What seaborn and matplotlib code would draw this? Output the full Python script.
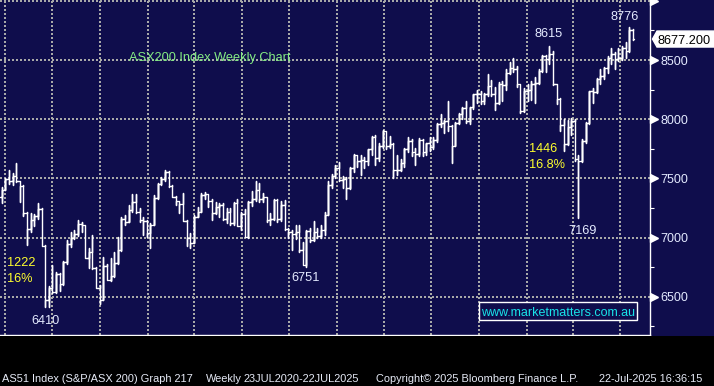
import numpy as np
import pandas as pd
import matplotlib
matplotlib.use("Agg")
import matplotlib.pyplot as plt
import matplotlib.dates as mdates
from matplotlib.patches import Rectangle, Polygon
from matplotlib.transforms import IdentityTransform, blended_transform_factory
import seaborn as sns

# ---------------- data (weekly OHLC, week ending Friday) ----------------
week_ending = pd.date_range("2022-03-25", "2025-07-25", freq="W-FRI")

opens = [
    # 2022
    7340, 7406, 7499, 7479, 7523, 7474, 7435, 7205, 7075, 7146,
    7182, 7238, 6932, 6475, 6578, 6539, 6694, 6605, 6792, 6945,
    6999, 7033, 7115, 7104, 6828, 6876, 6739, 6574, 6474, 6762,
    6645, 6677, 6786, 6892, 7158, 7135, 7229, 7301, 7214, 7148,
    7141,
    # 2023
    7039, 7109, 7333, 7452, 7493, 7558, 7434, 7347, 7308, 7283,
    7144, 6995, 6955, 7178, 7218, 7362, 7365, 7309, 7205, 7256,
    7279, 7154, 7216, 7125, 7295, 7099, 7203, 7007, 7303, 7325,
    7403, 7325, 7340, 7148, 7160, 7318, 7156, 7279, 7069, 7049,
    7033, 7051, 6899, 6772, 7053, 6977, 7049, 7015, 7067, 7194,
    7442, 7523,
    # 2024
    7590, 7489, 7499, 7421, 7588, 7699, 7645, 7658, 7643, 7746,
    7847, 7671, 7771, 7897, 7773, 7789, 7567, 7575, 7629, 7749,
    7814, 7727, 7702, 7823, 7724, 7796, 7768, 7822, 7960, 7970,
    7989, 7943, 7777, 7971, 8044, 8092, 7985, 8099, 8209, 8212,
    8150, 8214, 8283, 8211, 8135, 8296, 8285, 8394, 8436, 8420,
    8296, 8067,
    # 2025
    8235, 8250, 8294, 8310, 8408, 8532, 8511, 8555, 8296, 8172,
    7948, 7789, 7931, 7982, 7667, 7646, 7819, 7969, 8238, 8231,
    8343, 8361, 8435, 8515, 8548, 8505, 8514, 8603, 8580, 8757,
]
highs = [
    7430, 7505, 7570, 7545, 7632, 7480, 7440, 7215, 7205, 7200,
    7290, 7250, 6935, 6590, 6765, 6710, 6700, 6800, 6980, 7050,
    7065, 7150, 7135, 7105, 6910, 7020, 6755, 6600, 6840, 6780,
    6825, 6880, 7005, 7175, 7190, 7275, 7370, 7370, 7250, 7175,
    7150,
    7120, 7360, 7460, 7510, 7569, 7565, 7440, 7350, 7310, 7375,
    7150, 7035, 7190, 7260, 7375, 7385, 7370, 7330, 7300, 7290,
    7290, 7250, 7250, 7300, 7330, 7220, 7240, 7310, 7390, 7475,
    7460, 7380, 7345, 7210, 7330, 7330, 7310, 7320, 7080, 7065,
    7110, 7105, 6965, 7060, 7080, 7140, 7080, 7110, 7220, 7475,
    7540, 7610,
    7640, 7520, 7510, 7600, 7705, 7700, 7700, 7680, 7750, 7860,
    7865, 7800, 7905, 7900, 7860, 7800, 7700, 7660, 7760, 7850,
    7830, 7760, 7840, 7830, 7800, 7850, 7850, 7965, 8045, 7990,
    8150, 7950, 7980, 8050, 8100, 8150, 8100, 8215, 8250, 8240,
    8220, 8385, 8330, 8275, 8315, 8320, 8420, 8485, 8515, 8450,
    8300, 8260,
    8300, 8320, 8360, 8420, 8540, 8545, 8615, 8580, 8300, 8180,
    8000, 7990, 8010, 8000, 7700, 7830, 7980, 8240, 8260, 8350,
    8420, 8440, 8530, 8600, 8570, 8600, 8620, 8650, 8776, 8760,
]
lows = [
    7290, 7400, 7455, 7445, 7470, 7300, 7180, 6940, 7050, 7100,
    7160, 6925, 6410, 6415, 6535, 6535, 6545, 6600, 6780, 6920,
    6990, 7010, 7050, 6825, 6740, 6735, 6570, 6440, 6470, 6640,
    6630, 6670, 6780, 6890, 7105, 7130, 7220, 7210, 7135, 7020,
    7005,
    6915, 7105, 7330, 7445, 7480, 7430, 7345, 7275, 7205, 7140,
    6925, 6910, 6950, 7170, 7215, 7330, 7260, 7150, 7200, 7175,
    7150, 7120, 7105, 7110, 7095, 7065, 7005, 7000, 7270, 7310,
    7300, 7300, 7130, 7110, 7150, 7130, 7140, 7065, 7000, 6895,
    6990, 6880, 6765, 6751, 6960, 6975, 7000, 7000, 7020, 7190,
    7420, 7500,
    7480, 7415, 7330, 7410, 7555, 7600, 7530, 7590, 7610, 7700,
    7610, 7650, 7760, 7750, 7760, 7500, 7530, 7560, 7600, 7720,
    7690, 7610, 7690, 7690, 7700, 7730, 7750, 7810, 7930, 7880,
    7900, 7630, 7770, 7960, 8000, 7970, 7960, 8090, 8140, 8130,
    8130, 8200, 8200, 8080, 8130, 8150, 8250, 8380, 8400, 8275,
    8055, 8060,
    8150, 8160, 8140, 8300, 8400, 8400, 8470, 8290, 8130, 7900,
    7735, 7780, 7870, 7650, 7169, 7640, 7800, 7960, 8140, 8220,
    8300, 8340, 8390, 8470, 8420, 8490, 8500, 8520, 8570, 8670,
]
closes = [
    7406, 7499, 7479, 7523, 7474, 7435, 7205, 7075, 7146, 7182,
    7238, 6932, 6475, 6578, 6539, 6694, 6605, 6792, 6945, 6999,
    7033, 7115, 7104, 6828, 6876, 6739, 6574, 6474, 6762, 6645,
    6677, 6786, 6892, 7158, 7135, 7229, 7301, 7214, 7148, 7141,
    7039,
    7109, 7333, 7452, 7493, 7558, 7434, 7347, 7308, 7283, 7144,
    6995, 6955, 7178, 7218, 7362, 7365, 7309, 7205, 7256, 7279,
    7154, 7216, 7125, 7295, 7099, 7203, 7007, 7303, 7325, 7403,
    7325, 7340, 7148, 7160, 7318, 7156, 7279, 7069, 7049, 7033,
    7051, 6899, 6772, 7053, 6977, 7049, 7015, 7067, 7194, 7442,
    7523, 7590,
    7489, 7499, 7421, 7588, 7699, 7645, 7658, 7643, 7746, 7847,
    7671, 7771, 7897, 7773, 7789, 7567, 7575, 7629, 7749, 7814,
    7727, 7702, 7823, 7724, 7796, 7768, 7822, 7960, 7970, 7989,
    7943, 7777, 7971, 8044, 8092, 7985, 8099, 8209, 8212, 8150,
    8214, 8283, 8211, 8135, 8296, 8285, 8394, 8436, 8420, 8296,
    8067, 8235,
    8250, 8294, 8310, 8408, 8532, 8511, 8555, 8296, 8172, 7948,
    7789, 7931, 7982, 7667, 7646, 7819, 7969, 8238, 8231, 8343,
    8361, 8435, 8515, 8548, 8505, 8514, 8603, 8580, 8757, 8677.2,
]

y_major = [6500, 7000, 7500, 8000, 8500, 9000]
y_labels = ["6500", "7000", "7500", "8000", "8500", ""]
y_minor = [6250, 6750, 7250, 7750, 8250, 8750]
years = [2022, 2023, 2024, 2025]

title_text = "ASX200 Index Weekly Chart"
footer_parts = [
    ("AS51 Index (S&P/ASX 200) Graph 217", 2),
    ("Weekly", 206),
    ("23JUL2020-22JUL2025", 243),
    ("Copyright\u00a9 2025 Bloomberg Finance L.P.", 376),
    ("22-Jul-2025 16:36:15", 599),
]

# ---------------- styling ----------------
NAVY = "#0f0d4c"
GRID = "#a8a8a8"
LABEL = "#e4eaff"
YELLOW = "#ffff2e"
GREEN = "#84ec84"
CYAN = "#19e3e8"

sns.set_theme(style="dark", rc={"axes.facecolor": NAVY, "figure.facecolor": NAVY})
plt.rcParams["font.family"] = ["Liberation Sans", "DejaVu Sans"]

W, H = 714, 386
fig = plt.figure(figsize=(W / 100, H / 100), dpi=100, facecolor=NAVY)
AX_R, AX_B = 650, 335
ax = fig.add_axes([0, (H - AX_B) / H, AX_R / W, AX_B / H])
ax.set_facecolor(NAVY)

# black band at the bottom
fig.patches.append(Rectangle((0, 0), 1, (H - AX_B - 0.5) / H, transform=fig.transFigure,
                             facecolor="black", edgecolor="none", zorder=0))

# ---------------- OHLC bars through seaborn ----------------
half = pd.Timedelta(days=3)
rows = []
for i, (d, o, h, l, c) in enumerate(zip(week_ending, opens, highs, lows, closes)):
    for xx, yy in [(d - half, o), (d, o), (d, h), (d, l), (d, c), (d + half, c)]:
        rows.append({"date": xx, "price": yy, "bar": i})
df = pd.DataFrame(rows)
sns.lineplot(data=df, x="date", y="price", units="bar", estimator=None, sort=False,
             color="white", linewidth=1.0, ax=ax, legend=False)

# ---------------- axes ----------------
x_left = week_ending[0] - pd.Timedelta(days=3.3)
x_right = pd.Timestamp("2025-08-27")
ax.set_xlim(x_left, x_right)
ax.set_ylim(6177, 9007)
ax.set_xlabel("")
ax.set_ylabel("")

ax.xaxis.set_major_locator(mdates.MonthLocator(bymonth=(1, 4, 7, 10)))
ax.xaxis.set_minor_locator(mdates.MonthLocator())
ax.tick_params(axis="x", which="both", bottom=True, top=False, labelbottom=False,
               direction="out", length=2.5, width=0.8, color="white")

ax.yaxis.tick_right()
ax.set_yticks(y_major)
ax.set_yticklabels(y_labels)
ax.set_yticks(y_minor, minor=True)
ax.tick_params(axis="y", which="major", length=0, pad=7.3, labelsize=9, labelcolor=LABEL,
               left=False, right=True)
ax.tick_params(axis="y", which="minor", length=3, width=0.8, color="white",
               left=False, right=True, direction="out")

ax.grid(True, which="major", color=GRID, linestyle=(0, (1, 1)), linewidth=1.44)
ax.grid(False, which="minor")
ax.set_axisbelow(True)

for s in ["top", "left"]:
    ax.spines[s].set_visible(False)
for s in ["right", "bottom"]:
    ax.spines[s].set_visible(True)
    ax.spines[s].set_color("white")
    ax.spines[s].set_linewidth(1.0)

# triangles at major ticks on the right axis
bt = blended_transform_factory(ax.transAxes, ax.transData)
ax.plot([1 + 4.3 / AX_R] * len(y_major), y_major, ls="none", marker=">", ms=5.5,
        color="white", transform=bt, clip_on=False, zorder=5)

# ---------------- year labels and separators ----------------
bx = blended_transform_factory(ax.transData, ax.transAxes)
xl, xr = mdates.date2num(x_left), mdates.date2num(x_right)
for yr in years:
    a = max(mdates.date2num(pd.Timestamp(f"{yr}-01-01")), xl)
    b = min(mdates.date2num(pd.Timestamp(f"{yr + 1}-01-01")), xr)
    ax.text((a + b) / 2, 1 - 366.7 / AX_B, str(yr), transform=bx, ha="center",
            va="baseline", fontsize=9.2, color="#f2f2f2", clip_on=False)
    if yr > years[0]:
        ax.plot([a, a], [1 - 352.3 / AX_B, 1 - 368.3 / AX_B], color="#8c8c8c", lw=0.8,
                transform=bx, clip_on=False)

# ---------------- footer ----------------
for txt, xpx in footer_parts:
    fig.text(xpx / W, (H - 382.5) / H, txt, ha="left", va="baseline", fontsize=7.9,
             color="#e6eaf6")

# ---------------- annotations (axes fraction from pixel positions) ----------------
def axpos(xpx, ypx):
    return xpx / AX_R, 1 - ypx / AX_B

def label(xpx, ypx, txt, color, ha="center", size=9.2):
    x, y = axpos(xpx, ypx)
    ax.text(x, y, txt, transform=ax.transAxes, ha=ha, va="baseline", fontsize=size,
            color=color, zorder=6)

label(129, 60.5, title_text, GREEN, ha="left", size=9.2)
label(548.7, 36.7, "8615", LABEL)
label(625, 20, "8776", LABEL)
label(529, 151.7, "1446", YELLOW, ha="left")
label(529, 168, "16.8%", YELLOW, ha="left")
label(7, 266, "1222", YELLOW, ha="left")
label(7, 281.7, "16%", YELLOW, ha="left")
label(45, 324, "6410", LABEL)
label(305.7, 281, "6751", LABEL)
label(582.3, 234.3, "7169", LABEL)

# website box
x0, y0 = axpos(479, 320)
x1, y1 = axpos(637, 302)
ax.add_patch(Rectangle((x0, y0), x1 - x0, y1 - y0, transform=ax.transAxes,
                       facecolor=NAVY, edgecolor="white", linewidth=1.0, zorder=6))
label(558, 316, "www.marketmatters.com.au", CYAN, size=9.0)

# ---------------- last price tag ----------------
fig.canvas.draw()
last_date = mdates.date2num(week_ending[-1])
_, yc = ax.transData.transform((last_date, closes[-1]))
xs = AX_R + 2.5
tag = Polygon([(xs, yc), (xs + 4.5, yc + 8), (W + 2, yc + 8), (W + 2, yc - 8), (xs + 4.5, yc - 8)],
              closed=True, transform=IdentityTransform(), facecolor="white",
              edgecolor="white", zorder=10)
fig.patches.append(tag)
fig.text(658 / W, (yc - 4.6) / H, f"{closes[-1]:.3f}", ha="left", va="baseline",
         fontsize=9.2, color="black", zorder=11)

fig.savefig("out.png", dpi=100, facecolor=NAVY)
